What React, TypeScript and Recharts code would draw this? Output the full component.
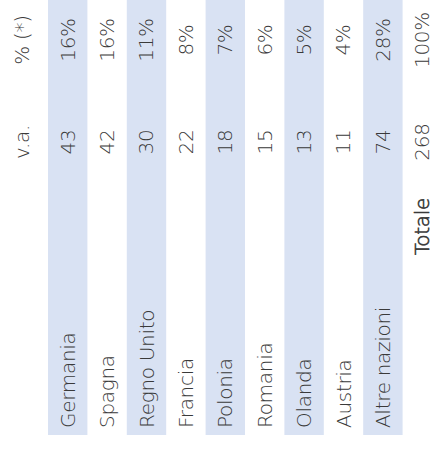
import { BarChart, Bar, XAxis, YAxis, ReferenceArea, LabelList, Customized } from 'recharts';

const countries = ['Germania', 'Spagna', 'Regno Unito', 'Francia', 'Polonia', 'Romania', 'Olanda', 'Austria', 'Altre nazioni', 'Totale'];
const absValues = [43, 42, 30, 22, 18, 15, 13, 11, 74, 268];
const pctValues = ['16%', '16%', '11%', '8%', '7%', '6%', '5%', '4%', '28%', '100%'];
const shaded = ['Germania', 'Regno Unito', 'Polonia', 'Olanda', 'Altre nazioni'];
const headers = { abs: 'v.a.', pct: '% (*)' };

const rows = countries.map((name, i) => ({ name, va: absValues[i], pct: pctValues[i] }));

const W = 438;
const H = 451;
const FONT = '"DejaVu Sans", sans-serif';
const INK = '#3a3a3a';
const BAND = '#d9e2f3';
const PCT_Y = 40;
const VA_Y = 142;
const NAME_Y = 428;
const TOT_Y = 198;

function VText({ x, y, anchor, children, heavy = false }: any) {
  return (
    <text
      x={x}
      y={y}
      transform={`rotate(-90 ${x} ${y})`}
      textAnchor={anchor}
      dominantBaseline="central"
      fontFamily={FONT}
      fontSize={20}
      fontWeight={200}
      letterSpacing={-0.3}
      fill={INK}
      stroke={heavy ? INK : 'none'}
      strokeWidth={heavy ? 0.6 : 0}
    >
      {children}
    </text>
  );
}

const cellLabel = (yPos: number) => (props: any) => {
  const { x, width, value } = props;
  return <VText x={x + width / 2} y={yPos} anchor="middle">{value}</VText>;
};

const NameTick = (props: any) => {
  const { x, payload } = props;
  if (payload.value === 'Totale') {
    return <VText x={x} y={TOT_Y} anchor="end" heavy>{payload.value}</VText>;
  }
  return <VText x={x} y={NAME_Y} anchor="start">{payload.value}</VText>;
};

const HeaderCells = () => (
  <g>
    <VText x={22} y={VA_Y} anchor="middle">{headers.abs}</VText>
    <VText x={22} y={PCT_Y} anchor="middle">{headers.pct}</VText>
  </g>
);

export default function App() {
  return (
    <div style={{ position: 'absolute', left: 0, top: 0, width: W, height: H, background: '#fff' }}>
      <BarChart width={W} height={H} data={rows} margin={{ top: 0, right: -4, bottom: 0, left: 48 }} barCategoryGap={0}>
        <XAxis dataKey="name" height={16} axisLine={false} tickLine={false} interval={0} tick={<NameTick />} />
        <YAxis hide domain={[0, 300]} />
        {shaded.map((c) => (
          <ReferenceArea key={c} x1={c} x2={c} fill={BAND} fillOpacity={1} stroke="none" />
        ))}
        <Bar dataKey="va" fill="transparent" isAnimationActive={false}>
          <LabelList dataKey="va" content={cellLabel(VA_Y)} />
          <LabelList dataKey="pct" content={cellLabel(PCT_Y)} />
        </Bar>
        <Customized component={HeaderCells} />
      </BarChart>
    </div>
  );
}
